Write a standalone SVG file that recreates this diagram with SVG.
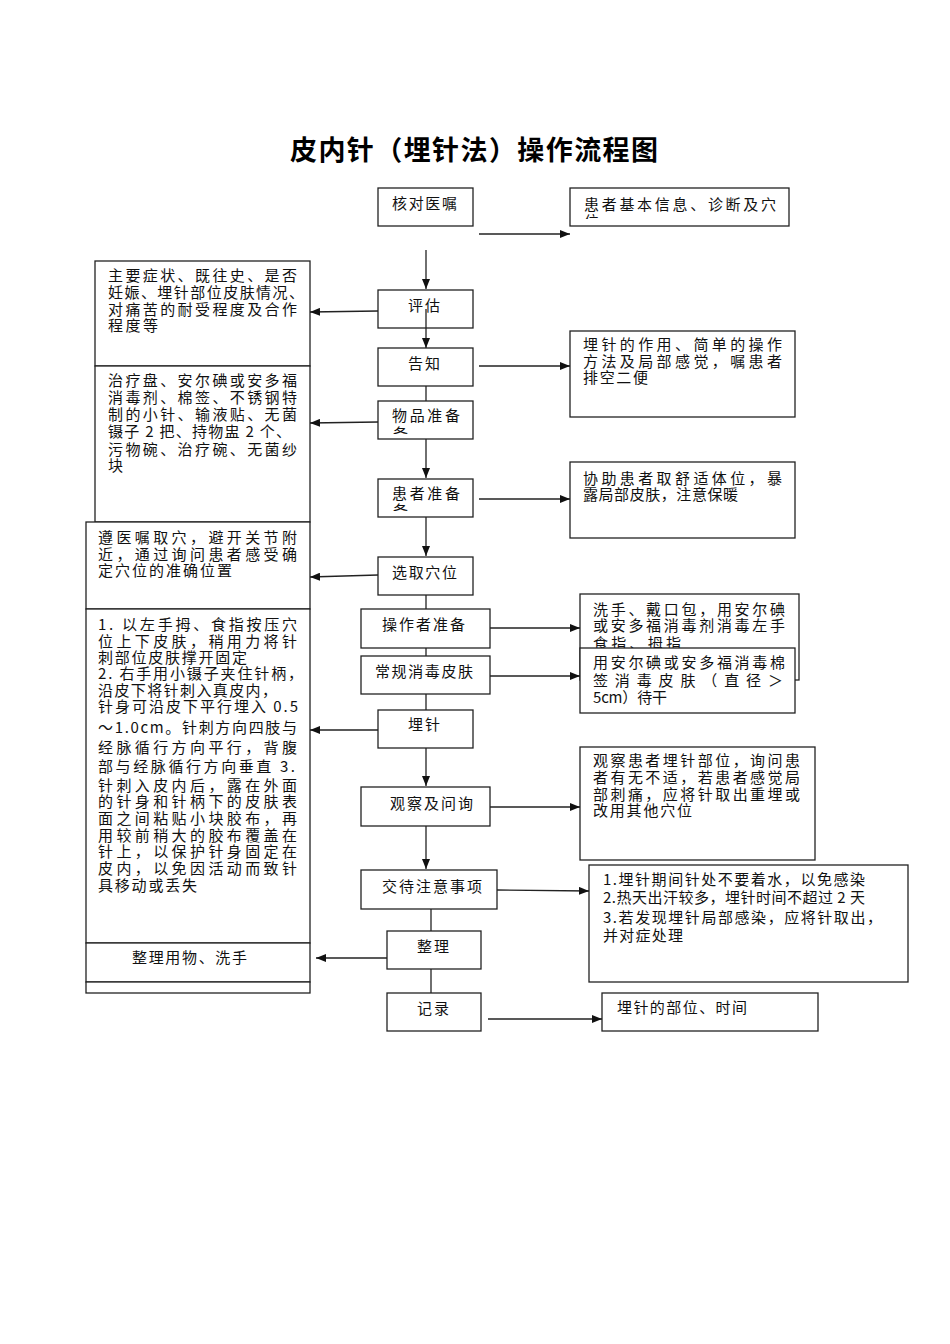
<svg xmlns="http://www.w3.org/2000/svg" width="950" height="1344" viewBox="0 0 950 1344">
<style>
.b{fill:#fff;stroke:#222;stroke-width:1.3}
.t{font-family:"Noto Sans CJK SC","Noto Sans",sans-serif;font-size:15px;fill:#111}
.ttl{font-family:"Noto Sans CJK SC","Noto Sans",sans-serif;font-size:27px;font-weight:bold;fill:#000}
.c{stroke:#222;stroke-width:1.3;fill:none}
.a{marker-end:url(#ah)}
</style>
<defs>
<marker id="ah" markerUnits="userSpaceOnUse" markerWidth="10" markerHeight="8" refX="10" refY="4" orient="auto"><path d="M0,0 L10,4 L0,8 z" fill="#111"/></marker>
<clipPath id="cpR1"><rect x="570" y="188" width="219" height="31"/></clipPath>
<clipPath id="cpN4"><rect x="378" y="401" width="95" height="33"/></clipPath>
<clipPath id="cpN5"><rect x="378" y="479" width="95" height="32"/></clipPath>
</defs>
<rect width="950" height="1344" fill="#fff"/>
<text class="ttl" x="290" y="160" textLength="368" lengthAdjust="spacing">皮内针（埋针法）操作流程图</text>

<g id="left-boxes">
<g id="L1"><rect class="b" x="95" y="261" width="215" height="105"/>
<text class="t" x="108" y="281" textLength="189">主要症状、既往史、是否</text>
<text class="t" x="108" y="298" textLength="196">妊娠、埋针部位皮肤情况、</text>
<text class="t" x="108" y="315" textLength="189">对痛苦的耐受程度及合作</text>
<text class="t" x="108" y="331" textLength="50">程度等</text></g>
<g id="L2"><rect class="b" x="95" y="366" width="215" height="156"/>
<text class="t" x="108" y="386" textLength="189">治疗盘、安尔碘或安多福</text>
<text class="t" x="108" y="403" textLength="189">消毒剂、棉签、不锈钢特</text>
<text class="t" x="108" y="420" textLength="189">制的小针、输液贴、无菌</text>
<text class="t" x="108" y="437" textLength="183">镊子 2 把、持物盅 2 个、</text>
<text class="t" x="108" y="455" textLength="189">污物碗、治疗碗、无菌纱</text>
<text class="t" x="108" y="471">块</text></g>
<g id="L3"><rect class="b" x="86" y="522" width="224" height="87"/>
<text class="t" x="98" y="543" textLength="199">遵医嘱取穴，避开关节附</text>
<text class="t" x="98" y="560" textLength="199">近，通过询问患者感受确</text>
<text class="t" x="98" y="576" textLength="134">定穴位的准确位置</text></g>
<g id="L4"><rect class="b" x="86" y="609" width="224" height="334"/>
<text class="t" x="98" y="630" textLength="199">1. 以左手拇、食指按压穴</text>
<text class="t" x="98" y="647" textLength="199">位上下皮肤，稍用力将针</text>
<text class="t" x="98" y="663" textLength="149">刺部位皮肤撑开固定</text>
<text class="t" x="98" y="679" textLength="205">2. 右手用小镊子夹住针柄，</text>
<text class="t" x="98" y="696" textLength="179">沿皮下将针刺入真皮内，</text>
<text class="t" x="98" y="712" textLength="200">针身可沿皮下平行埋入 0.5</text>
<text class="t" x="98" y="733" textLength="199">～1.0cm。针刺方向四肢与</text>
<text class="t" x="98" y="753" textLength="199">经脉循行方向平行，背腹</text>
<text class="t" x="98" y="772" textLength="197">部与经脉循行方向垂直 3.</text>
<text class="t" x="98" y="791" textLength="199">针刺入皮内后，露在外面</text>
<text class="t" x="98" y="807" textLength="199">的针身和针柄下的皮肤表</text>
<text class="t" x="98" y="824" textLength="199">面之间粘贴小块胶布，再</text>
<text class="t" x="98" y="841" textLength="199">用较前稍大的胶布覆盖在</text>
<text class="t" x="98" y="857" textLength="199">针上，以保护针身固定在</text>
<text class="t" x="98" y="874" textLength="199">皮内，以免因活动而致针</text>
<text class="t" x="98" y="891" textLength="99">具移动或丢失</text></g>
<g id="L5"><rect class="b" x="86" y="943" width="224" height="39"/>
<text class="t" x="132" y="963" textLength="115">整理用物、洗手</text></g>
<g id="L6"><rect class="b" x="86" y="982" width="224" height="11"/></g>
</g>

<g id="right-boxes">
<g id="R1"><rect class="b" x="570" y="188" width="219" height="38"/>
<g clip-path="url(#cpR1)"><text class="t" x="584" y="210" textLength="192">患者基本信息、诊断及穴</text>
<text class="t" x="584" y="227">位</text></g></g>
<g id="R2"><rect class="b" x="570" y="331" width="225" height="86"/>
<text class="t" x="583" y="350" textLength="199">埋针的作用、简单的操作</text>
<text class="t" x="583" y="367" textLength="199">方法及局部感觉，嘱患者</text>
<text class="t" x="583" y="383" textLength="65">排空二便</text></g>
<g id="R3"><rect class="b" x="570" y="462" width="225" height="76"/>
<text class="t" x="583" y="484" textLength="199">协助患者取舒适体位，暴</text>
<text class="t" x="583" y="500" textLength="155">露局部皮肤，注意保暖</text></g>
<g id="R4"><rect class="b" x="580" y="594" width="219" height="86"/>
<text class="t" x="593" y="615" textLength="192">洗手、戴口包，用安尔碘</text>
<text class="t" x="593" y="631" textLength="192">或安多福消毒剂消毒左手</text>
<text class="t" x="593" y="649" textLength="88">食指、拇指</text></g>
<g id="R5"><rect class="b" x="580" y="648" width="215" height="65"/>
<text class="t" x="593" y="668" textLength="192">用安尔碘或安多福消毒棉</text>
<text class="t" x="593" y="686" textLength="190">签消毒皮肤（直径＞</text>
<text class="t" x="593" y="703" textLength="74">5cm）待干</text></g>
<g id="R6"><rect class="b" x="580" y="747" width="235" height="113"/>
<text class="t" x="593" y="766" textLength="207">观察患者埋针部位，询问患</text>
<text class="t" x="593" y="783" textLength="207">者有无不适，若患者感觉局</text>
<text class="t" x="593" y="800" textLength="207">部刺痛，应将针取出重埋或</text>
<text class="t" x="593" y="816" textLength="99">改用其他穴位</text></g>
<g id="R7"><rect class="b" x="589" y="865" width="319" height="117"/>
<text class="t" x="603" y="885" textLength="262">1.埋针期间针处不要着水，以免感染</text>
<text class="t" x="603" y="903" textLength="262">2.热天出汗较多，埋针时间不超过 2 天</text>
<text class="t" x="603" y="923" textLength="279">3.若发现埋针局部感染，应将针取出，</text>
<text class="t" x="603" y="941" textLength="80">并对症处理</text></g>
<g id="R8"><rect class="b" x="602" y="993" width="216" height="38"/>
<text class="t" x="617" y="1013" textLength="130">埋针的部位、时间</text></g>
</g>

<g id="center-nodes">
<g id="N1"><rect class="b" x="378" y="188" width="95" height="38"/><text class="t" x="392" y="209" textLength="65">核对医嘱</text></g>
<g id="N2"><rect class="b" x="378" y="290" width="95" height="38"/><text class="t" x="408" y="311" textLength="32">评估</text></g>
<g id="N3"><rect class="b" x="378" y="348" width="95" height="38"/><text class="t" x="408" y="369" textLength="32">告知</text></g>
<g id="N4"><rect class="b" x="378" y="401" width="95" height="38"/><g clip-path="url(#cpN4)"><text class="t" x="392" y="421" textLength="68">物品准备</text><text class="t" x="393" y="439">备</text></g></g>
<g id="N5"><rect class="b" x="378" y="479" width="95" height="38"/><g clip-path="url(#cpN5)"><text class="t" x="392" y="499" textLength="68">患者准备</text><text class="t" x="393" y="516">备</text></g></g>
<g id="N6"><rect class="b" x="378" y="557" width="95" height="38"/><text class="t" x="392" y="578" textLength="65">选取穴位</text></g>
<g id="N7"><rect class="b" x="361" y="609" width="129" height="39"/><text class="t" x="382" y="630" textLength="83">操作者准备</text></g>
<g id="N8"><rect class="b" x="361" y="656" width="129" height="38"/><text class="t" x="375" y="677" textLength="98">常规消毒皮肤</text></g>
<g id="N9"><rect class="b" x="378" y="710" width="95" height="38"/><text class="t" x="408" y="730" textLength="32">埋针</text></g>
<g id="N10"><rect class="b" x="361" y="787" width="129" height="39"/><text class="t" x="390" y="809" textLength="83">观察及问询</text></g>
<g id="N11"><rect class="b" x="361" y="870" width="136" height="39"/><text class="t" x="382" y="892" textLength="100">交待注意事项</text></g>
<g id="N12"><rect class="b" x="387" y="931" width="94" height="38"/><text class="t" x="417" y="952" textLength="32">整理</text></g>
<g id="N13"><rect class="b" x="387" y="993" width="94" height="38"/><text class="t" x="417" y="1014" textLength="32">记录</text></g>
</g>

<g id="connectors">
<line class="c a" x1="479" y1="234" x2="570" y2="234"/>
<line class="c a" x1="426" y1="250" x2="426" y2="289"/>
<line class="c a" x1="378" y1="311" x2="310" y2="312"/>
<line class="c a" x1="426" y1="309" x2="426" y2="348"/>
<line class="c a" x1="479" y1="366" x2="570" y2="366"/>
<line class="c" x1="426" y1="386" x2="426" y2="401"/>
<line class="c a" x1="378" y1="422" x2="310" y2="423"/>
<line class="c a" x1="426" y1="439" x2="426" y2="478"/>
<line class="c a" x1="479" y1="499" x2="570" y2="499"/>
<line class="c a" x1="426" y1="517" x2="426" y2="556"/>
<line class="c a" x1="378" y1="575" x2="310" y2="577"/>
<line class="c" x1="426" y1="595" x2="426" y2="609"/>
<line class="c a" x1="490" y1="628" x2="580" y2="628"/>
<line class="c" x1="426" y1="648" x2="426" y2="656"/>
<line class="c a" x1="490" y1="676" x2="580" y2="676"/>
<line class="c" x1="426" y1="694" x2="426" y2="710"/>
<line class="c a" x1="378" y1="730" x2="310" y2="730"/>
<line class="c a" x1="426" y1="748" x2="426" y2="786"/>
<line class="c a" x1="490" y1="807" x2="580" y2="807"/>
<line class="c a" x1="426" y1="826" x2="426" y2="869"/>
<line class="c a" x1="497" y1="890" x2="589" y2="891"/>
<line class="c" x1="431" y1="909" x2="431" y2="931"/>
<line class="c a" x1="387" y1="958" x2="316" y2="958"/>
<line class="c" x1="431" y1="969" x2="431" y2="993"/>
<line class="c a" x1="488" y1="1019" x2="602" y2="1019"/>
</g>
</svg>
